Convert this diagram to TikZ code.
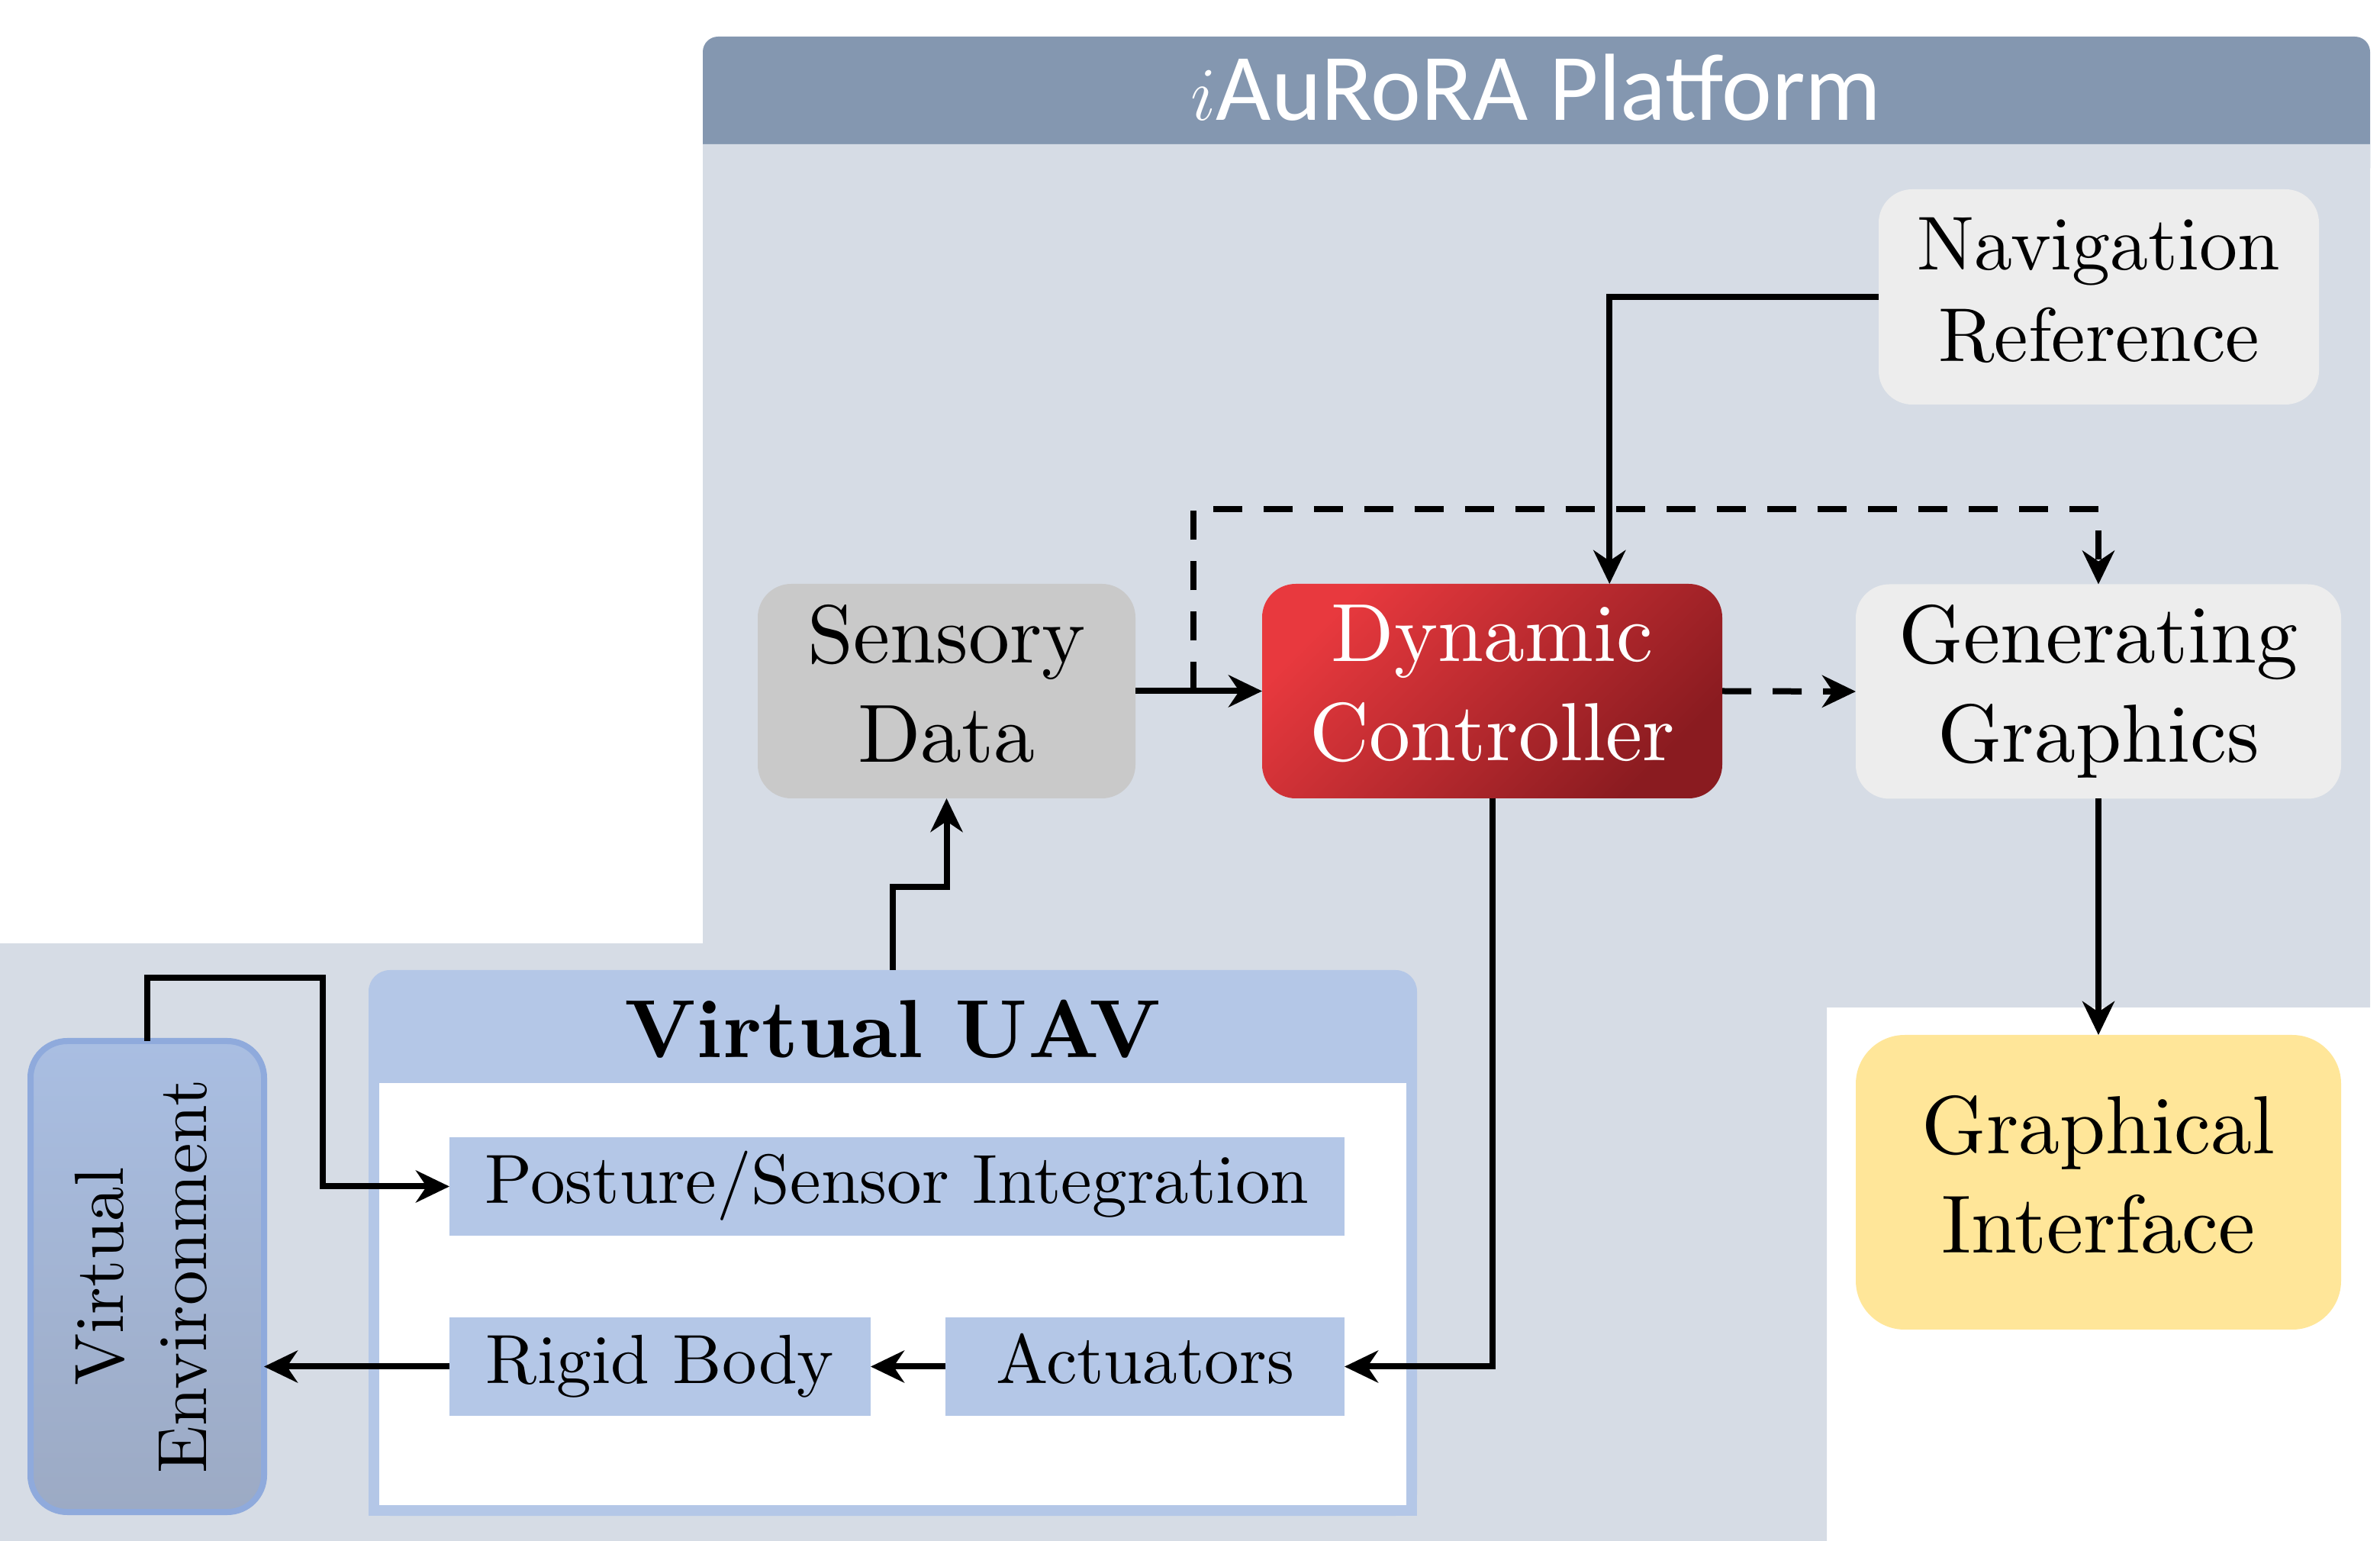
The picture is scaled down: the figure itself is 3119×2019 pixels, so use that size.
\documentclass[tikz,border=0pt]{standalone}
\usepackage{fontspec}
\setmainfont{lmroman10-regular.otf}[BoldFont=lmroman10-bold.otf, ItalicFont=lmroman10-italic.otf]
\newfontfamily\titlefont{Carlito}
\usetikzlibrary{arrows.meta,calc}
\newcommand\dstrut{\rule[-0.194em]{0pt}{0.194em}}
\definecolor{hdr}{HTML}{8497B0}
\definecolor{bodyc}{HTML}{D6DCE5}
\definecolor{lgray}{HTML}{EDEDED}
\definecolor{mgray}{HTML}{C9C9C9}
\definecolor{uavc}{HTML}{B4C7E7}
\definecolor{gold}{HTML}{FFE699}
\definecolor{redA}{HTML}{E8393E}
\definecolor{redB}{HTML}{8A1B20}
\definecolor{veA}{HTML}{A9BEE2}
\definecolor{veB}{HTML}{9CAAC4}
\definecolor{veD}{HTML}{8FAADC}
\begin{document}
\begin{tikzpicture}[x=0.25pt,y=-0.25pt,
  box/.style={rectangle, rounded corners=11pt, align=center, inner sep=0pt, outer sep=0pt,
    font=\fontsize{27}{32.5}\selectfont},
  sub/.style={rectangle, fill=uavc, inner sep=0pt, outer sep=0pt,
    font=\fontsize{22.8}{27.4}\selectfont, minimum height=32.25pt,
    text height=16.5pt, text depth=5.6pt},
  arr/.style={line width=2pt, -{Stealth[length=11pt,width=10.5pt,inset=3.5pt]}},
  darr/.style={arr, dash pattern=on 9.5pt off 7pt},
]
\useasboundingbox (0,0) rectangle (3119,2019);
% platform background
\fill[hdr, rounded corners=5pt] (921,48) rectangle (3106,240);
\fill[bodyc] (921,189) -- (3106,189) -- (3106,1320) -- (2394,1320) -- (2394,2019)
  -- (0,2019) -- (0,1236) -- (921,1236) -- cycle;
\node[font=\titlefont\fontsize{31.2}{37}\selectfont, text=white, anchor=base] (title)
  at (2013,158) {$i$AuRoRA Platform};

% upper blocks
\node[box, fill=lgray, minimum width=144.25pt, minimum height=70.5pt,
  font=\fontsize{25}{30}\selectfont] (nav) at (2750.5,389) {Navigation\\Reference\dstrut};
\node[box, fill=mgray, minimum width=123.75pt, minimum height=70.25pt] (sens)
  at (1240.5,905.5) {Sensory\\Data\dstrut};
\node[box, top color=redA, bottom color=redB, shading angle=45, text=white,
  minimum width=150.75pt, minimum height=70.25pt] (ctrl) at (1955.5,905.5) {Dynamic\\Controller\dstrut};
\node[box, fill=lgray, minimum width=159pt, minimum height=70.25pt] (gen)
  at (2750,906) {Generating\\Graphics\dstrut};
\node[box, fill=gold, rounded corners=16pt, minimum width=159pt, minimum height=96.5pt] (gui)
  at (2750,1549) {Graphical\\Interface\dstrut};

% virtual UAV
\node[fill=uavc, rounded corners=7pt, minimum width=343.5pt, minimum height=178.75pt,
  inner sep=0pt, outer sep=0pt] (uav) at (1170,1628.5) {};
\fill[uavc] (483,1400) rectangle (1857,1986);
\fill[white] (497,1419) rectangle (1843,1972);
\node[font=\bfseries\fontsize{27}{32}\selectfont, anchor=base] (uavt) at (1170,1386) {Virtual UAV};
\node[sub, minimum width=293.25pt] (post) at (1175.5,1554.5) {Posture/Sensor Integration};
\node[sub, minimum width=138pt] (rigid) at (865,1790.5) {Rigid Body};
\node[sub, minimum width=130.75pt] (act) at (1500.5,1790.5) {Actuators};

% virtual environment
\node[draw=veD, line width=2pt, top color=veA, bottom color=veB, rounded corners=12pt,
  minimum width=76.5pt, minimum height=154.25pt, inner sep=0pt, outer sep=0pt] (ve)
  at (193,1672.5) {};
\node[rotate=90, align=center, font=\fontsize{22.8}{27.4}\selectfont] (vet)
  at (ve.center) {Virtual\\Environment\dstrut};

% connectors
\coordinate (dstart) at ($(sens.east)!0.46!(ctrl.west)$);
\coordinate (navin) at ($(ctrl.north)!0.51!(ctrl.north east)$);
\draw[darr] (dstart) |- (gen.north |- 0,667) -- (gen.north);
\draw[arr] (nav.west) -| (navin);
\draw[arr] (sens.east) -- (ctrl.west);
\draw[darr] (ctrl.east) -- (gen.west);
\draw[arr] (ctrl.south) |- (act.east);
\draw[arr] (gen.south) -- (gui.north);
\draw[arr] (uav.north) |- (sens.south |- 0,1162) -- (sens.south);
\draw[arr] (ve.north) |- (423,1281) |- (post.west);
\draw[arr] (act.west) -- (rigid.east);
\draw[arr] (rigid.west) -- (rigid.west -| ve.east);
\end{tikzpicture}
\end{document}
